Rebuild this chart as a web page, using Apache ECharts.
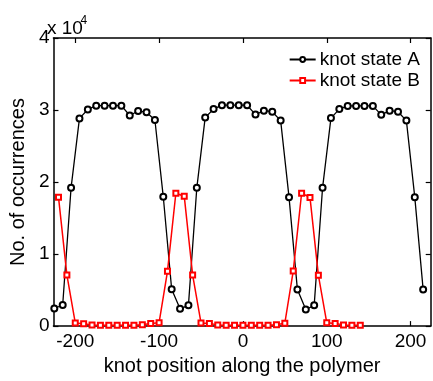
<!DOCTYPE html>
<html>
<head>
<meta charset="utf-8">
<script src="https://cdn.jsdelivr.net/npm/echarts@6/dist/echarts.min.js"></script>
<style>
html,body{margin:0;padding:0;background:#fff;}
#chart{width:433px;height:381px;}
</style>
</head>
<body>
<div id="chart"></div>
<script>
// knot state A: positions -225..215 step 10
var positionsA = [-225,-215,-205,-195,-185,-175,-165,-155,-145,-135,-125,-115,-105,-95,-85,-75,-65,-55,-45,-35,-25,-15,-5,5,15,25,35,45,55,65,75,85,95,105,115,125,135,145,155,165,175,185,195,205,215];
var valuesA = [2440,2930,19200,28840,30080,30610,30610,30610,30610,29240,29870,29680,28610,17950,5110,2400,2880,19200,28970,30130,30670,30670,30670,30670,29370,29910,29770,28530,17900,5070,2310,2880,19200,28880,30130,30570,30570,30570,30570,29330,29910,29770,28530,17900,5070];
// knot state B: positions -220..140 step 10
var positionsB = [-220,-210,-200,-190,-180,-170,-160,-150,-140,-130,-120,-110,-100,-90,-80,-70,-60,-50,-40,-30,-20,-10,0,10,20,30,40,50,60,70,80,90,100,110,120,130,140];
var valuesB = [17900,7110,440,310,170,130,130,130,130,130,200,350,480,7600,18440,18040,7110,440,350,170,130,130,130,130,130,130,200,400,7640,18440,17870,7070,480,350,170,130,130];
var xTicks = [-200,-100,0,100,200];
var yTicks = [0,10000,20000,30000,40000];
var seriesNames = ['knot state A','knot state B'];

var FONT = 'Liberation Sans, Arial, sans-serif';
function pairs(xs, ys){ return xs.map(function(x,i){ return [x, ys[i]]; }); }

var chart = echarts.init(document.getElementById('chart'), null, {renderer:'canvas'});
var xMin = -226, xMax = 224;
var axisLine = {show:true, onZero:false, lineStyle:{color:'#000', width:1.5}};
var tick = {show:true, inside:true, length:5, lineStyle:{color:'#000', width:1.2}};
chart.setOption({
  animation:false,
  backgroundColor:'#fff',
  grid:{left:47, right:2.3, top:38, bottom:42.7, containLabel:false},
  legend:{
    orient:'vertical', right:8, top:45, itemWidth:26, itemHeight:6, itemGap:2,
    textStyle:{fontFamily:FONT, fontSize:19, color:'#000', padding:[0,0,0,-1]},
    data:seriesNames
  },
  graphic:[
    {type:'text', left:47, top:19, style:{text:'x 10', font:'19px ' + FONT, fill:'#000'}},
    {type:'text', left:80.5, top:15, style:{text:'4', font:'12px ' + FONT, fill:'#000'}}
  ],
  xAxis:[{
    type:'value', min:xMin, max:xMax, position:'bottom',
    name:'knot position along the polymer', nameLocation:'middle', nameGap:25,
    nameTextStyle:{fontFamily:FONT, fontSize:20, color:'#000'},
    axisLine:axisLine,
    axisTick:Object.assign({customValues:xTicks}, tick),
    axisLabel:{show:true, margin:6, fontFamily:FONT, fontSize:19, color:'#000', customValues:xTicks},
    splitLine:{show:false}
  },{
    type:'value', min:xMin, max:xMax, position:'top',
    axisLine:axisLine,
    axisTick:Object.assign({customValues:xTicks}, tick),
    axisLabel:{show:false},
    splitLine:{show:false}
  }],
  yAxis:[{
    type:'value', min:0, max:40000, interval:10000, position:'left',
    name:'No. of occurrences', nameLocation:'middle', nameGap:19, nameRotate:90,
    nameTextStyle:{fontFamily:FONT, fontSize:20, color:'#000'},
    axisLine:axisLine,
    axisTick:tick,
    axisLabel:{show:true, margin:4, fontFamily:FONT, fontSize:19, color:'#000',
      formatter:function(v){ return String(v/10000); }},
    splitLine:{show:false}
  },{
    type:'value', min:0, max:40000, interval:10000, position:'right',
    axisLine:axisLine,
    axisTick:tick,
    axisLabel:{show:false},
    splitLine:{show:false}
  }],
  series:[{
    name:seriesNames[0], type:'line', xAxisIndex:0, yAxisIndex:0,
    data:pairs(positionsA, valuesA),
    symbol:'emptyCircle', symbolSize:6, showAllSymbol:true,
    lineStyle:{color:'#000', width:1.3},
    itemStyle:{color:'#000', borderColor:'#000', borderWidth:1.2}
  },{
    name:seriesNames[1], type:'line', xAxisIndex:0, yAxisIndex:0,
    data:pairs(positionsB, valuesB),
    symbol:'emptyRect', symbolSize:5, showAllSymbol:true,
    lineStyle:{color:'#ff0000', width:1.5},
    itemStyle:{color:'#ff0000', borderColor:'#ff0000', borderWidth:1.5}
  }]
});
</script>
</body>
</html>
